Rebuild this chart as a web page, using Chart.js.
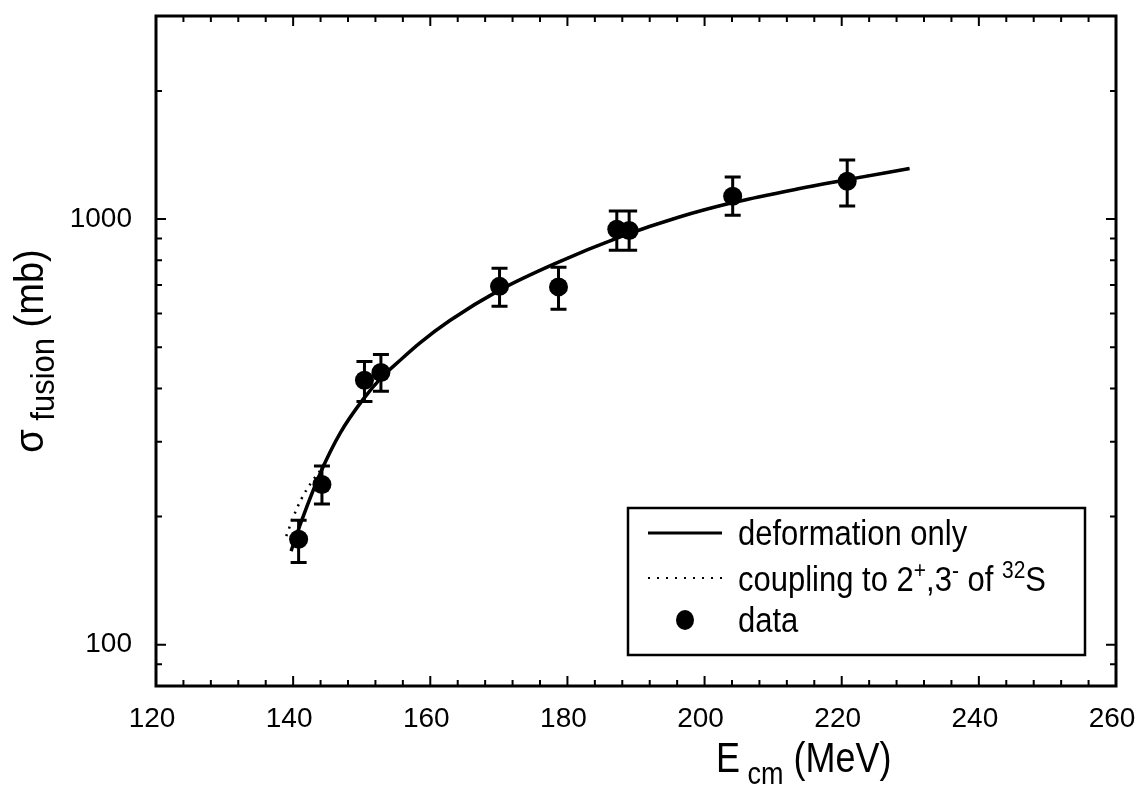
<!DOCTYPE html>
<html>
<head>
<meta charset="utf-8">
<script src="https://cdn.jsdelivr.net/npm/chart.js@4/dist/chart.umd.min.js"></script>
<style>
  html, body { margin: 0; padding: 0; background: #fff; }
  #wrap { width: 1137px; height: 798px; }
</style>
</head>
<body>
<div id="wrap"><canvas id="fusionChart" width="1137" height="798"></canvas></div>
<script>
// Fusion cross section vs. centre-of-mass energy, with two calculations

// measured points (E in MeV, sigma in mb) and their error bars
const energy = [140.8, 144.2, 150.4, 152.8, 170.1, 178.7, 187.2, 189.0, 204.1, 220.8];
const sigma = [177, 238, 418, 436, 695, 693, 947, 940, 1132, 1227];
const sigmaLow = [156, 214, 373, 394, 624, 614, 845, 845, 1021, 1074];
const sigmaHigh = [196, 263, 463, 481, 767, 771, 1045, 1045, 1256, 1377];

// calculation: deformation only
const deformE = [139.7, 141.2, 144.1, 146.9, 150.2, 152.8, 155.6, 158.5, 162.8, 170.1, 178.1, 188.0, 196.2, 204.0, 212.3, 220.8, 229.9];
const deformSigma = [166, 195, 256, 315, 377, 423, 466, 512, 577, 681, 785, 912, 1010, 1092, 1166, 1238, 1315];

// calculation: coupling to 2+,3- of 32S
const couplingE = [139.0, 140.1, 141.2, 142.6, 144.1, 146.9, 150.2, 152.8, 155.6, 158.5, 162.8, 170.1, 178.1, 188.0, 196.2, 204.0, 212.3, 220.8, 229.9];
const couplingSigma = [180, 201, 220, 240, 259, 315, 377, 423, 466, 512, 577, 681, 785, 912, 1010, 1092, 1166, 1238, 1315];

// axis ticks
const xMajorTicks = [120, 140, 160, 180, 200, 220, 240, 260];
const xMinorStep = 4;
const yTickValues = [90, 100, 200, 300, 400, 500, 600, 700, 800, 900, 1000, 2000];
const yTickLabels = [100, 1000];

const FONT = '"Liberation Sans", Arial, Helvetica, sans-serif';
const INK = "#000";

function toPoints(xs, ys) {
  return xs.map((x, i) => ({ x, y: ys[i] }));
}

// text runs: pieces with their own size and vertical shift (sub/superscripts)
function runWidth(ctx, runs) {
  let w = 0;
  for (const r of runs) {
    ctx.font = `${r.size}px ${FONT}`;
    w += ctx.measureText(r.text).width;
  }
  return w;
}
function drawRuns(ctx, runs, x, y) {
  for (const r of runs) {
    ctx.font = `${r.size}px ${FONT}`;
    ctx.fillText(r.text, x, y + (r.dy || 0));
    x += ctx.measureText(r.text).width;
  }
}

// frame + inward ticks on all four sides
const frameTicks = {
  id: "frameTicks",
  afterDatasetsDraw(chart) {
    const { ctx, chartArea: a, scales } = chart;
    const xs = scales.x, ys = scales.y;
    ctx.save();
    ctx.strokeStyle = INK;
    ctx.lineWidth = 2;
    ctx.beginPath();
    for (let v = xs.min; v <= xs.max; v += xMinorStep) {
      const px = xs.getPixelForValue(v);
      const len = xMajorTicks.includes(v) ? 10 : 6;
      ctx.moveTo(px, a.bottom); ctx.lineTo(px, a.bottom - len);
      ctx.moveTo(px, a.top); ctx.lineTo(px, a.top + len);
    }
    for (const v of yTickValues) {
      const py = ys.getPixelForValue(v);
      const len = yTickLabels.includes(v) ? 10 : 6;
      ctx.moveTo(a.left, py); ctx.lineTo(a.left + len, py);
      ctx.moveTo(a.right, py); ctx.lineTo(a.right - len, py);
    }
    ctx.stroke();
    ctx.lineWidth = 3;
    ctx.strokeRect(a.left, a.top, a.right - a.left, a.bottom - a.top);
    ctx.restore();
  },
};

// vertical error bars with caps
const errorBars = {
  id: "errorBars",
  afterDatasetsDraw(chart) {
    const { ctx, scales } = chart;
    ctx.save();
    ctx.strokeStyle = INK;
    ctx.lineWidth = 3;
    ctx.beginPath();
    energy.forEach((e, i) => {
      const px = scales.x.getPixelForValue(e);
      const lo = scales.y.getPixelForValue(sigmaLow[i]);
      const hi = scales.y.getPixelForValue(sigmaHigh[i]);
      ctx.moveTo(px, lo); ctx.lineTo(px, hi);
      ctx.moveTo(px - 8, lo); ctx.lineTo(px + 8, lo);
      ctx.moveTo(px - 8, hi); ctx.lineTo(px + 8, hi);
    });
    ctx.stroke();
    ctx.restore();
  },
};

// axis titles with subscripts (slightly tall lettering)
const axisTitles = {
  id: "axisTitles",
  afterDraw(chart) {
    const { ctx, chartArea: a } = chart;
    const stretch = 1.18;
    ctx.save();
    ctx.fillStyle = INK;
    ctx.textBaseline = "alphabetic";

    ctx.save();
    ctx.scale(1, stretch);
    drawRuns(ctx, [
      { text: "E", size: 36 },
      { text: " cm", size: 27, dy: 10 },
      { text: " (MeV)", size: 36 },
    ], 716, 772 / stretch);
    ctx.restore();

    const yRuns = [
      { text: "σ", size: 38 },
      { text: " fusion", size: 31, dy: 10 },
      { text: " (mb)", size: 38 },
    ];
    const w = runWidth(ctx, yRuns);
    ctx.translate(43, (a.top + a.bottom) / 2);
    ctx.rotate(-Math.PI / 2);
    ctx.scale(1, stretch * 0.92);
    drawRuns(ctx, yRuns, -w / 2, 0);
    ctx.restore();
  },
};

// boxed legend
const legendBox = {
  id: "legendBox",
  afterDraw(chart) {
    const { ctx } = chart;
    ctx.save();
    ctx.strokeStyle = INK;
    ctx.fillStyle = INK;
    ctx.lineWidth = 2.5;
    ctx.strokeRect(628, 508, 457, 147);

    ctx.lineWidth = 3;
    ctx.beginPath();
    ctx.moveTo(648, 533); ctx.lineTo(722, 533);
    ctx.stroke();

    ctx.lineWidth = 2;
    ctx.setLineDash([2, 7]);
    ctx.beginPath();
    ctx.moveTo(648, 578); ctx.lineTo(722, 578);
    ctx.stroke();
    ctx.setLineDash([]);

    ctx.beginPath();
    ctx.ellipse(685, 620, 9, 10, 0, 0, Math.PI * 2);
    ctx.fill();

    const stretch = 1.12;
    ctx.scale(1, stretch);
    ctx.textBaseline = "alphabetic";
    drawRuns(ctx, [{ text: "deformation only", size: 31 }], 738, 545 / stretch);
    drawRuns(ctx, [
      { text: "coupling to 2", size: 31 },
      { text: "+", size: 21, dy: -12 },
      { text: ",3", size: 31 },
      { text: "-", size: 21, dy: -12 },
      { text: " of ", size: 31 },
      { text: "32", size: 21, dy: -12 },
      { text: "S", size: 31 },
    ], 738, 591 / stretch);
    drawRuns(ctx, [{ text: "data", size: 31 }], 738, 632 / stretch);
    ctx.restore();
  },
};

const ctx = document.getElementById("fusionChart").getContext("2d");

new Chart(ctx, {
  type: "scatter",
  data: {
    datasets: [
      {
        label: "data",
        data: toPoints(energy, sigma),
        pointRadius: 9.5,
        pointBackgroundColor: INK,
        pointBorderWidth: 0,
        showLine: false,
        order: 0,
      },
      {
        label: "deformation only",
        data: toPoints(deformE, deformSigma),
        showLine: true,
        borderColor: INK,
        borderWidth: 3.5,
        pointRadius: 0,
        cubicInterpolationMode: "monotone",
        order: 1,
      },
      {
        label: "coupling to 2+,3- of 32S",
        data: toPoints(couplingE, couplingSigma),
        showLine: true,
        borderColor: INK,
        borderWidth: 2.5,
        borderDash: [2, 6],
        pointRadius: 0,
        cubicInterpolationMode: "monotone",
        order: 2,
      },
    ],
  },
  options: {
    responsive: false,
    animation: false,
    layout: { padding: { left: 0, right: 21, top: 16, bottom: 0 } },
    plugins: { legend: { display: false }, tooltip: { enabled: false } },
    scales: {
      x: {
        type: "linear",
        min: 120,
        max: 260,
        afterBuildTicks: (s) => { s.ticks = xMajorTicks.map((v) => ({ value: v })); },
        afterFit: (s) => {
          s.height = 112;
          s.paddingLeft = 0;
          s.paddingRight = 0;
        },
        ticks: {
          color: INK,
          font: { family: FONT, size: 28 },
          padding: 16,
          labelOffset: -4,
          maxRotation: 0,
          autoSkip: false,
        },
        grid: { display: false, drawTicks: false },
        border: { display: false },
      },
      y: {
        type: "logarithmic",
        min: 80,
        max: 3000,
        afterBuildTicks: (s) => { s.ticks = yTickValues.map((v) => ({ value: v })); },
        afterFit: (s) => {
          s.width = 156;
          s.paddingTop = 0;
          s.paddingBottom = 0;
        },
        ticks: {
          color: INK,
          font: { family: FONT, size: 28 },
          padding: 24,
          autoSkip: false,
          callback: (v) => (yTickLabels.includes(v) ? String(v) : ""),
        },
        grid: { display: false, drawTicks: false },
        border: { display: false },
      },
    },
  },
  plugins: [frameTicks, errorBars, axisTitles, legendBox],
});
</script>
</body>
</html>
